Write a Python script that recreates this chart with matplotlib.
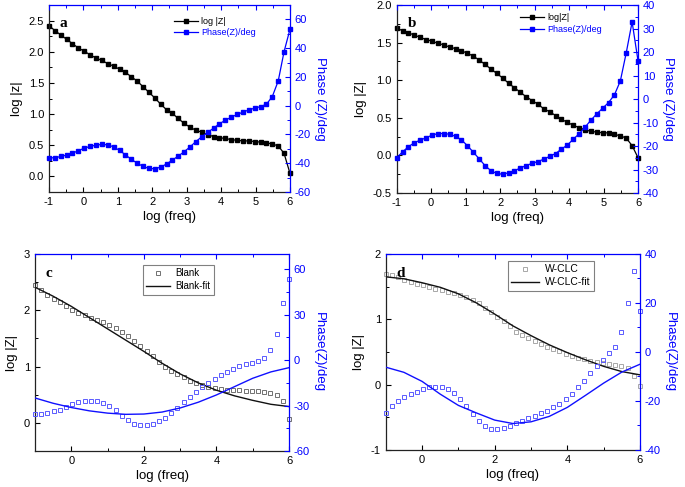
import matplotlib
matplotlib.use("Agg")
import matplotlib.pyplot as plt
from matplotlib.ticker import MultipleLocator

plt.rcParams['font.family'] = ['Liberation Sans', 'DejaVu Sans']
plt.rcParams['axes.unicode_minus'] = False

# ---------------- data ----------------
logf = [-1.000, -0.829, -0.659, -0.488, -0.317, -0.146, 0.024, 0.195, 0.366, 0.537,
        0.707, 0.878, 1.049, 1.220, 1.390, 1.561, 1.732, 1.902, 2.073, 2.244,
        2.415, 2.585, 2.756, 2.927, 3.098, 3.268, 3.439, 3.610, 3.780, 3.951,
        4.122, 4.293, 4.463, 4.634, 4.805, 4.976, 5.146, 5.317, 5.488, 5.659,
        5.829, 6.000]

# panel a (Blank)
a_logz = [2.42, 2.34, 2.27, 2.20, 2.13, 2.06, 2.01, 1.95, 1.90, 1.86,
          1.81, 1.77, 1.72, 1.67, 1.60, 1.53, 1.44, 1.35, 1.26, 1.16,
          1.07, 1.01, 0.93, 0.85, 0.79, 0.74, 0.71, 0.67, 0.64, 0.62,
          0.61, 0.59, 0.58, 0.57, 0.57, 0.56, 0.55, 0.54, 0.52, 0.49,
          0.37, 0.05]
a_phase = [-36.2, -36.2, -35.3, -34.3, -33.0, -31.3, -29.5, -28.3, -27.4, -26.9,
           -27.2, -28.6, -31.1, -34.1, -37.3, -39.9, -42.2, -43.6, -43.8, -42.7,
           -40.5, -37.8, -35.0, -32.0, -28.6, -24.9, -21.6, -18.6, -15.6, -12.6,
           -10.1, -8.0, -6.1, -4.5, -2.9, -1.7, -0.6, 1.0, 6.4, 17.2,
           37.6, 53.1]

# panel b (W-CLC)
b_logz = [1.69, 1.66, 1.63, 1.60, 1.57, 1.54, 1.52, 1.49, 1.47, 1.44,
          1.42, 1.39, 1.36, 1.32, 1.27, 1.21, 1.15, 1.09, 1.03, 0.96,
          0.90, 0.84, 0.78, 0.73, 0.68, 0.62, 0.58, 0.53, 0.48, 0.44,
          0.40, 0.37, 0.34, 0.32, 0.31, 0.30, 0.30, 0.28, 0.26, 0.23,
          0.13, -0.03]
b_phase = [-25.0, -22.5, -20.3, -18.6, -17.5, -16.5, -15.4, -14.7, -14.7, -15.0,
           -15.9, -17.4, -19.8, -22.6, -25.4, -28.3, -30.5, -31.7, -32.0, -31.4,
           -30.5, -29.4, -28.3, -27.4, -26.6, -25.6, -24.4, -23.2, -21.3, -19.6,
           -17.1, -14.8, -12.0, -9.0, -6.3, -3.9, -1.5, 1.8, 7.7, 19.7,
           32.8, 16.3]

# panel c (Blank with fit)
c_logz = [2.45, 2.36, 2.28, 2.20, 2.14, 2.08, 2.01, 1.96, 1.91, 1.87,
          1.82, 1.79, 1.74, 1.69, 1.62, 1.54, 1.46, 1.36, 1.27, 1.18,
          1.08, 1.00, 0.93, 0.87, 0.81, 0.75, 0.71, 0.67, 0.64, 0.62,
          0.61, 0.59, 0.58, 0.58, 0.57, 0.56, 0.56, 0.55, 0.53, 0.50,
          0.39, 0.07]
c_phase = [-35.8, -35.8, -34.7, -33.8, -32.7, -30.9, -29.2, -27.6, -27.0, -26.7,
           -27.2, -28.3, -30.5, -32.9, -36.7, -39.5, -41.9, -42.8, -43.0, -41.9,
           -40.4, -38.0, -34.9, -31.4, -27.6, -24.3, -21.0, -17.7, -14.9, -12.4,
           -9.8, -7.6, -5.6, -4.1, -2.7, -1.6, -0.3, 1.7, 6.9, 17.3,
           38.0, 53.2]

# panel d (W-CLC with fit)
d_logz = [1.69, 1.68, 1.64, 1.60, 1.57, 1.54, 1.52, 1.49, 1.47, 1.45,
          1.42, 1.40, 1.37, 1.34, 1.30, 1.25, 1.18, 1.11, 1.04, 0.97,
          0.90, 0.81, 0.76, 0.71, 0.67, 0.62, 0.58, 0.54, 0.51, 0.47,
          0.44, 0.41, 0.39, 0.36, 0.35, 0.33, 0.32, 0.30, 0.28, 0.26,
          0.13, -0.02]
d_phase = [-24.8, -22.0, -19.9, -18.2, -17.1, -16.2, -15.0, -14.1, -14.1, -14.3,
           -15.2, -16.9, -19.3, -22.0, -25.3, -28.0, -30.2, -31.4, -31.6, -31.2,
           -30.2, -29.1, -28.2, -27.1, -26.0, -25.0, -23.9, -22.6, -21.2, -19.3,
           -17.1, -14.4, -11.7, -8.7, -5.7, -3.3, -0.5, 2.2, 8.2, 19.9,
           33.2, 16.9]

# fitted curves
fit_x = [-1.0, -0.5, 0.0, 0.5, 1.0, 1.5, 2.0, 2.5, 3.0, 3.5, 4.0, 4.5, 5.0, 5.5, 6.0]
c_fit_logz = [2.41, 2.25, 2.07, 1.87, 1.67, 1.47, 1.27, 1.06, 0.87, 0.71, 0.58, 0.48, 0.40, 0.33, 0.29]
c_fit_phase = [-25.0, -28.5, -31.3, -33.5, -35.0, -35.8, -35.6, -34.3, -31.6, -27.8, -23.0, -17.5, -12.0, -7.8, -5.0]
d_fit_logz = [1.65, 1.62, 1.56, 1.49, 1.39, 1.25, 1.08, 0.90, 0.75, 0.61, 0.49, 0.38, 0.28, 0.20, 0.15]
d_fit_phase = [-6.2, -8.3, -12.0, -17.2, -21.8, -24.9, -27.8, -29.2, -28.5, -26.3, -22.6, -17.7, -12.7, -8.2, -5.0]

BLUE = '#0000ff'
TICK_FS = 8
LAB_FS = 9.5

fig = plt.figure(figsize=(6.85, 4.87), dpi=100)


def style(ax, ax2, xmaj, xmin, ylim, ymaj, ymin, y2lim, y2maj, y2min,
          ylabel, y2label, letter, letter_pos):
    ax.set_xlim(-1, 6)
    ax.set_ylim(*ylim)
    ax2.set_ylim(*y2lim)
    ax.xaxis.set_major_locator(MultipleLocator(xmaj))
    ax.xaxis.set_minor_locator(MultipleLocator(xmin))
    ax.yaxis.set_major_locator(MultipleLocator(ymaj))
    ax.yaxis.set_minor_locator(MultipleLocator(ymin))
    ax2.yaxis.set_major_locator(MultipleLocator(y2maj))
    ax2.yaxis.set_minor_locator(MultipleLocator(y2min))
    for s in ['top', 'right']:
        ax.spines[s].set_visible(False)
    for s in ['left', 'bottom']:
        ax2.spines[s].set_visible(False)
        ax.spines[s].set_linewidth(0.9)
        ax.spines[s].set_color('#222222')
    for s in ['top', 'right']:
        ax2.spines[s].set_color(BLUE)
        ax2.spines[s].set_linewidth(0.9)
    ax.tick_params(axis='both', which='both', direction='in', labelsize=TICK_FS,
                   right=False, top=False, pad=3.5)
    ax.tick_params(which='major', length=3.5, width=0.8)
    ax.tick_params(which='minor', length=2, width=0.7)
    ax2.xaxis.set_visible(True)
    ax2.tick_params(axis='x', which='both', direction='in', bottom=False, top=True,
                    labelbottom=False, labeltop=False, color=BLUE)
    ax2.tick_params(axis='x', which='major', length=3.5, width=0.8)
    ax2.tick_params(axis='x', which='minor', length=2, width=0.7)
    ax2.tick_params(axis='y', which='both', direction='in', colors=BLUE,
                    labelsize=TICK_FS, pad=3.5)
    ax2.tick_params(axis='y', which='major', length=3.5, width=0.8)
    ax2.tick_params(axis='y', which='minor', length=2, width=0.7)
    ax.set_xlabel('log (freq)', fontsize=LAB_FS, labelpad=3)
    ax.set_ylabel(ylabel, fontsize=LAB_FS, labelpad=4)
    ax2.set_ylabel(y2label, fontsize=LAB_FS, color=BLUE, rotation=270, labelpad=11)
    ax.text(letter_pos[0], letter_pos[1], letter, transform=ax.transAxes,
            fontsize=11, fontweight='bold', family=['Liberation Serif', 'DejaVu Serif'],
            ha='left', va='center')


# ---------------- panel a ----------------
axa = fig.add_axes([0.0715, 0.6057, 0.3518, 0.384])
axa2 = axa.twinx()
la, = axa.plot(logf, a_logz, color='black', lw=0.9, marker='s', ms=2.4, clip_on=False)
pa, = axa2.plot(logf, a_phase, color=BLUE, lw=0.9, marker='s', ms=2.9, clip_on=False)
style(axa, axa2, 1, 0.5, (-0.25, 2.75), 0.5, 0.25, (-60, 70), 20, 10,
      'log |z|', 'Phase (Z)/deg', 'a', (0.045, 0.9))
axa2.legend([la, pa], ['log |Z|', 'Phase(Z)/deg'], loc='upper left',
            bbox_to_anchor=(0.519, 0.935), frameon=False, fontsize=6.5,
            handlelength=2.7, borderpad=0, borderaxespad=0, labelspacing=0.25,
            handletextpad=0.3, labelcolor=['black', BLUE])

# ---------------- panel b ----------------
axb = fig.add_axes([0.5791, 0.6037, 0.3523, 0.386])
axb2 = axb.twinx()
lb, = axb.plot(logf, b_logz, color='black', lw=0.9, marker='s', ms=2.4, clip_on=False)
pb, = axb2.plot(logf, b_phase, color=BLUE, lw=0.9, marker='s', ms=2.9, clip_on=False)
style(axb, axb2, 1, 0.5, (-0.5, 2.0), 0.5, 0.25, (-40, 40), 10, 5,
      'log |Z|', 'Phase (Z)/deg', 'b', (0.045, 0.9))
axb2.legend([lb, pb], ['log|Z|', 'Phase(Z)/deg'], loc='upper left',
            bbox_to_anchor=(0.511, 0.955), frameon=False, fontsize=6.5,
            handlelength=2.7, borderpad=0, borderaxespad=0, labelspacing=0.25,
            handletextpad=0.3, labelcolor=['black', BLUE])

# ---------------- panel c ----------------
axc = fig.add_axes([0.0511, 0.0739, 0.3708, 0.4045])
axc2 = axc.twinx()
mc, = axc.plot(logf, c_logz, ls='none', marker='s', ms=3.4, mfc='none',
               mec='#707070', mew=0.7, clip_on=False)
fc, = axc.plot(fit_x, c_fit_logz, color='#111111', lw=1.0)
axc2.plot(logf, c_phase, ls='none', marker='s', ms=3.4, mfc='none',
          mec='#5a5aff', mew=0.7, clip_on=False)
axc2.plot(fit_x, c_fit_phase, color='#1010ff', lw=1.0)
style(axc, axc2, 2, 1, (-0.5, 3.0), 1, 0.5, (-60, 70), 30, 15,
      'log |Z|', 'Phase(Z)/deg', 'c', (0.04, 0.9))
lg = axc2.legend([mc, fc], ['Blank', 'Blank-fit'], loc='upper left',
                 bbox_to_anchor=(0.425, 0.944), fontsize=7, fancybox=False,
                 edgecolor='#808080', framealpha=1, handlelength=2.4,
                 borderpad=0.35, borderaxespad=0, labelspacing=0.3, handletextpad=0.6)
lg.get_frame().set_linewidth(0.8)

# ---------------- panel d ----------------
axd = fig.add_axes([0.5631, 0.076, 0.3712, 0.4025])
axd2 = axd.twinx()
md, = axd.plot(logf, d_logz, ls='none', marker='s', ms=3.4, mfc='none',
               mec='#a8a8a8', mew=0.7, clip_on=False)
fd, = axd.plot(fit_x, d_fit_logz, color='#111111', lw=1.0)
axd2.plot(logf, d_phase, ls='none', marker='s', ms=3.4, mfc='none',
          mec='#5a5aff', mew=0.7, clip_on=False)
axd2.plot(fit_x, d_fit_phase, color='#1010ff', lw=1.0)
style(axd, axd2, 2, 1, (-1, 2), 1, 0.5, (-40, 40), 20, 10,
      'log |Z|', 'Phase(Z)/deg', 'd', (0.04, 0.9))
lg = axd2.legend([md, fd], ['W-CLC', 'W-CLC-fit'], loc='upper left',
                 bbox_to_anchor=(0.48, 0.966), fontsize=7.5, fancybox=False,
                 edgecolor='#808080', framealpha=1, handlelength=2.6,
                 borderpad=0.35, borderaxespad=0, labelspacing=0.3, handletextpad=0.6)
lg.get_frame().set_linewidth(0.8)

fig.savefig('out.png', dpi=100)
